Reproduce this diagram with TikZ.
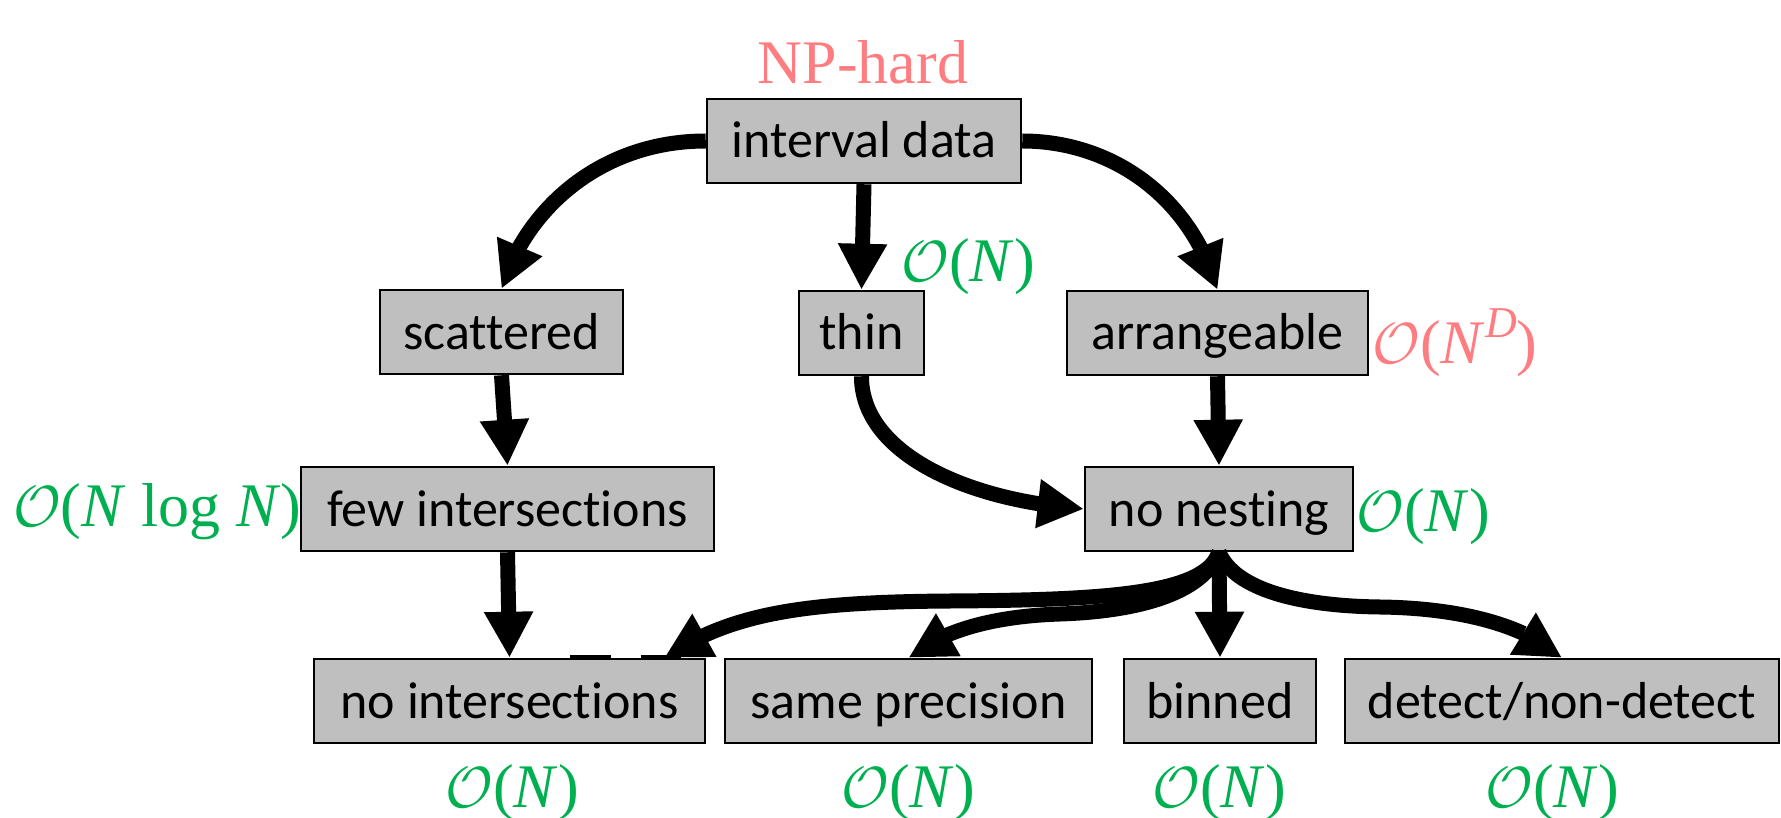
\documentclass[tikz,border=0pt]{standalone}
\usepackage{fontspec}
\setmainfont{Liberation Serif}
\newfontfamily\boxfont[Ligatures=NoCommon]{Carlito}
\usetikzlibrary{arrows.meta,bending,calc}
\definecolor{boxgray}{RGB}{191,191,191}
\definecolor{cgreen}{RGB}{0,176,80}
\definecolor{csalmon}{RGB}{255,124,128}
\newcommand{\calO}{{\fontsize{10}{12}\selectfont\scalebox{5.8}{$\mathcal{O}$}}}
\begin{document}
\begin{tikzpicture}[x=1pt,y=-1pt,
  box/.style={draw=black, line width=2.5pt, fill=boxgray, minimum height=84pt,
    inner sep=0pt, text height=38pt, text depth=4pt,
    font=\boxfont\fontsize{52}{62}\selectfont},
  lab/.style={font=\fontsize{62}{74}\selectfont, inner sep=0pt},
  glab/.style={lab, text=cgreen},
  rlab/.style={lab, text=csalmon},
  arr/.style={line width=15pt, -{Triangle[width=46pt,length=46pt]}}]
\useasboundingbox (0,0) rectangle (1781,818);
% boxes
\node[box, minimum width=314pt] (id) at (864,141) {interval data};
\node[box, minimum width=243pt] (sc) at (501.5,332) {scattered};
\node[box, minimum width=125pt] (th) at (861.5,333) {thin};
\node[box, minimum width=301pt] (ar) at (1217.5,333) {arrangeable};
\node[box, minimum width=413pt] (fi) at (507.5,509) {few intersections};
\node[box, minimum width=268pt] (nn) at (1219,509) {no nesting};
\node[box, minimum width=391pt] (ni) at (509.5,701) {no intersections};
\node[box, minimum width=367pt] (sp) at (908.5,701) {same precision};
\node[box, minimum width=192pt] (bn) at (1220,701) {binned};
\node[box, minimum width=434pt] (dt) at (1562,701) {detect/non-detect};
% labels
\node[rlab] (lnp) at (863,62) {NP-hard};
\node[glab] (lth) at (968,267) {\calO(\textit{N})};
\node[rlab] (lar) at (1455,343) {\calO(\textit{N}\raisebox{0.42em}{\fontsize{44}{50}\selectfont\textit{D}})};
\node[glab] (lfi) at (157,512) {\calO(\textit{N} log \textit{N})};
\node[glab] (lnn) at (1423,517) {\calO(\textit{N})};
\node[glab] (lni) at (512,793) {\calO(\textit{N})};
\node[glab] (lsp) at (908,793) {\calO(\textit{N})};
\node[glab] (lbn) at (1219,793) {\calO(\textit{N})};
\node[glab] (ldt) at (1552,793) {\calO(\textit{N})};
% connectors
\draw[arr] (id.west) .. controls (600,141) and (525,210) .. (sc.north);
\draw[arr] (id.south) -- (th.north);
\draw[arr] (id.east) .. controls (1110,141) and (1190,195) .. (ar.north);
\draw[arr] (sc.south) -- (fi.north);
\draw[arr] (th.south) .. controls (861,450) and (960,500) .. (nn.west);
\draw[arr] (ar.south) -- (nn.north);
\draw[arr] (fi.south) -- (ni.north);
\coordinate (niT) at ($(ni.north east)+(-42,0)$);
\draw[arr] (nn.south) .. controls (1205,595) and (1100,600) .. (950,601)
  .. controls (800,602) and (730,614) .. (niT);
\draw[arr] (nn.south) .. controls (1200,600) and (1120,612) .. (1060,614)
  .. controls (1000,616) and (945,628) .. (sp.north);
\draw[arr] (nn.south) -- (bn.north);
\draw[arr] (nn.south) .. controls (1235,590) and (1300,606) .. (1380,607)
  .. controls (1460,608) and (1525,625) .. (dt.north);
% small marks on top of "no intersections"
\draw[line width=3pt] ($(ni.north west)+(257,-1.5)$) -- ++(41,0);
\draw[line width=3pt] ($(ni.north west)+(328,-1.5)$) -- ++(40,0);
\end{tikzpicture}
\end{document}
